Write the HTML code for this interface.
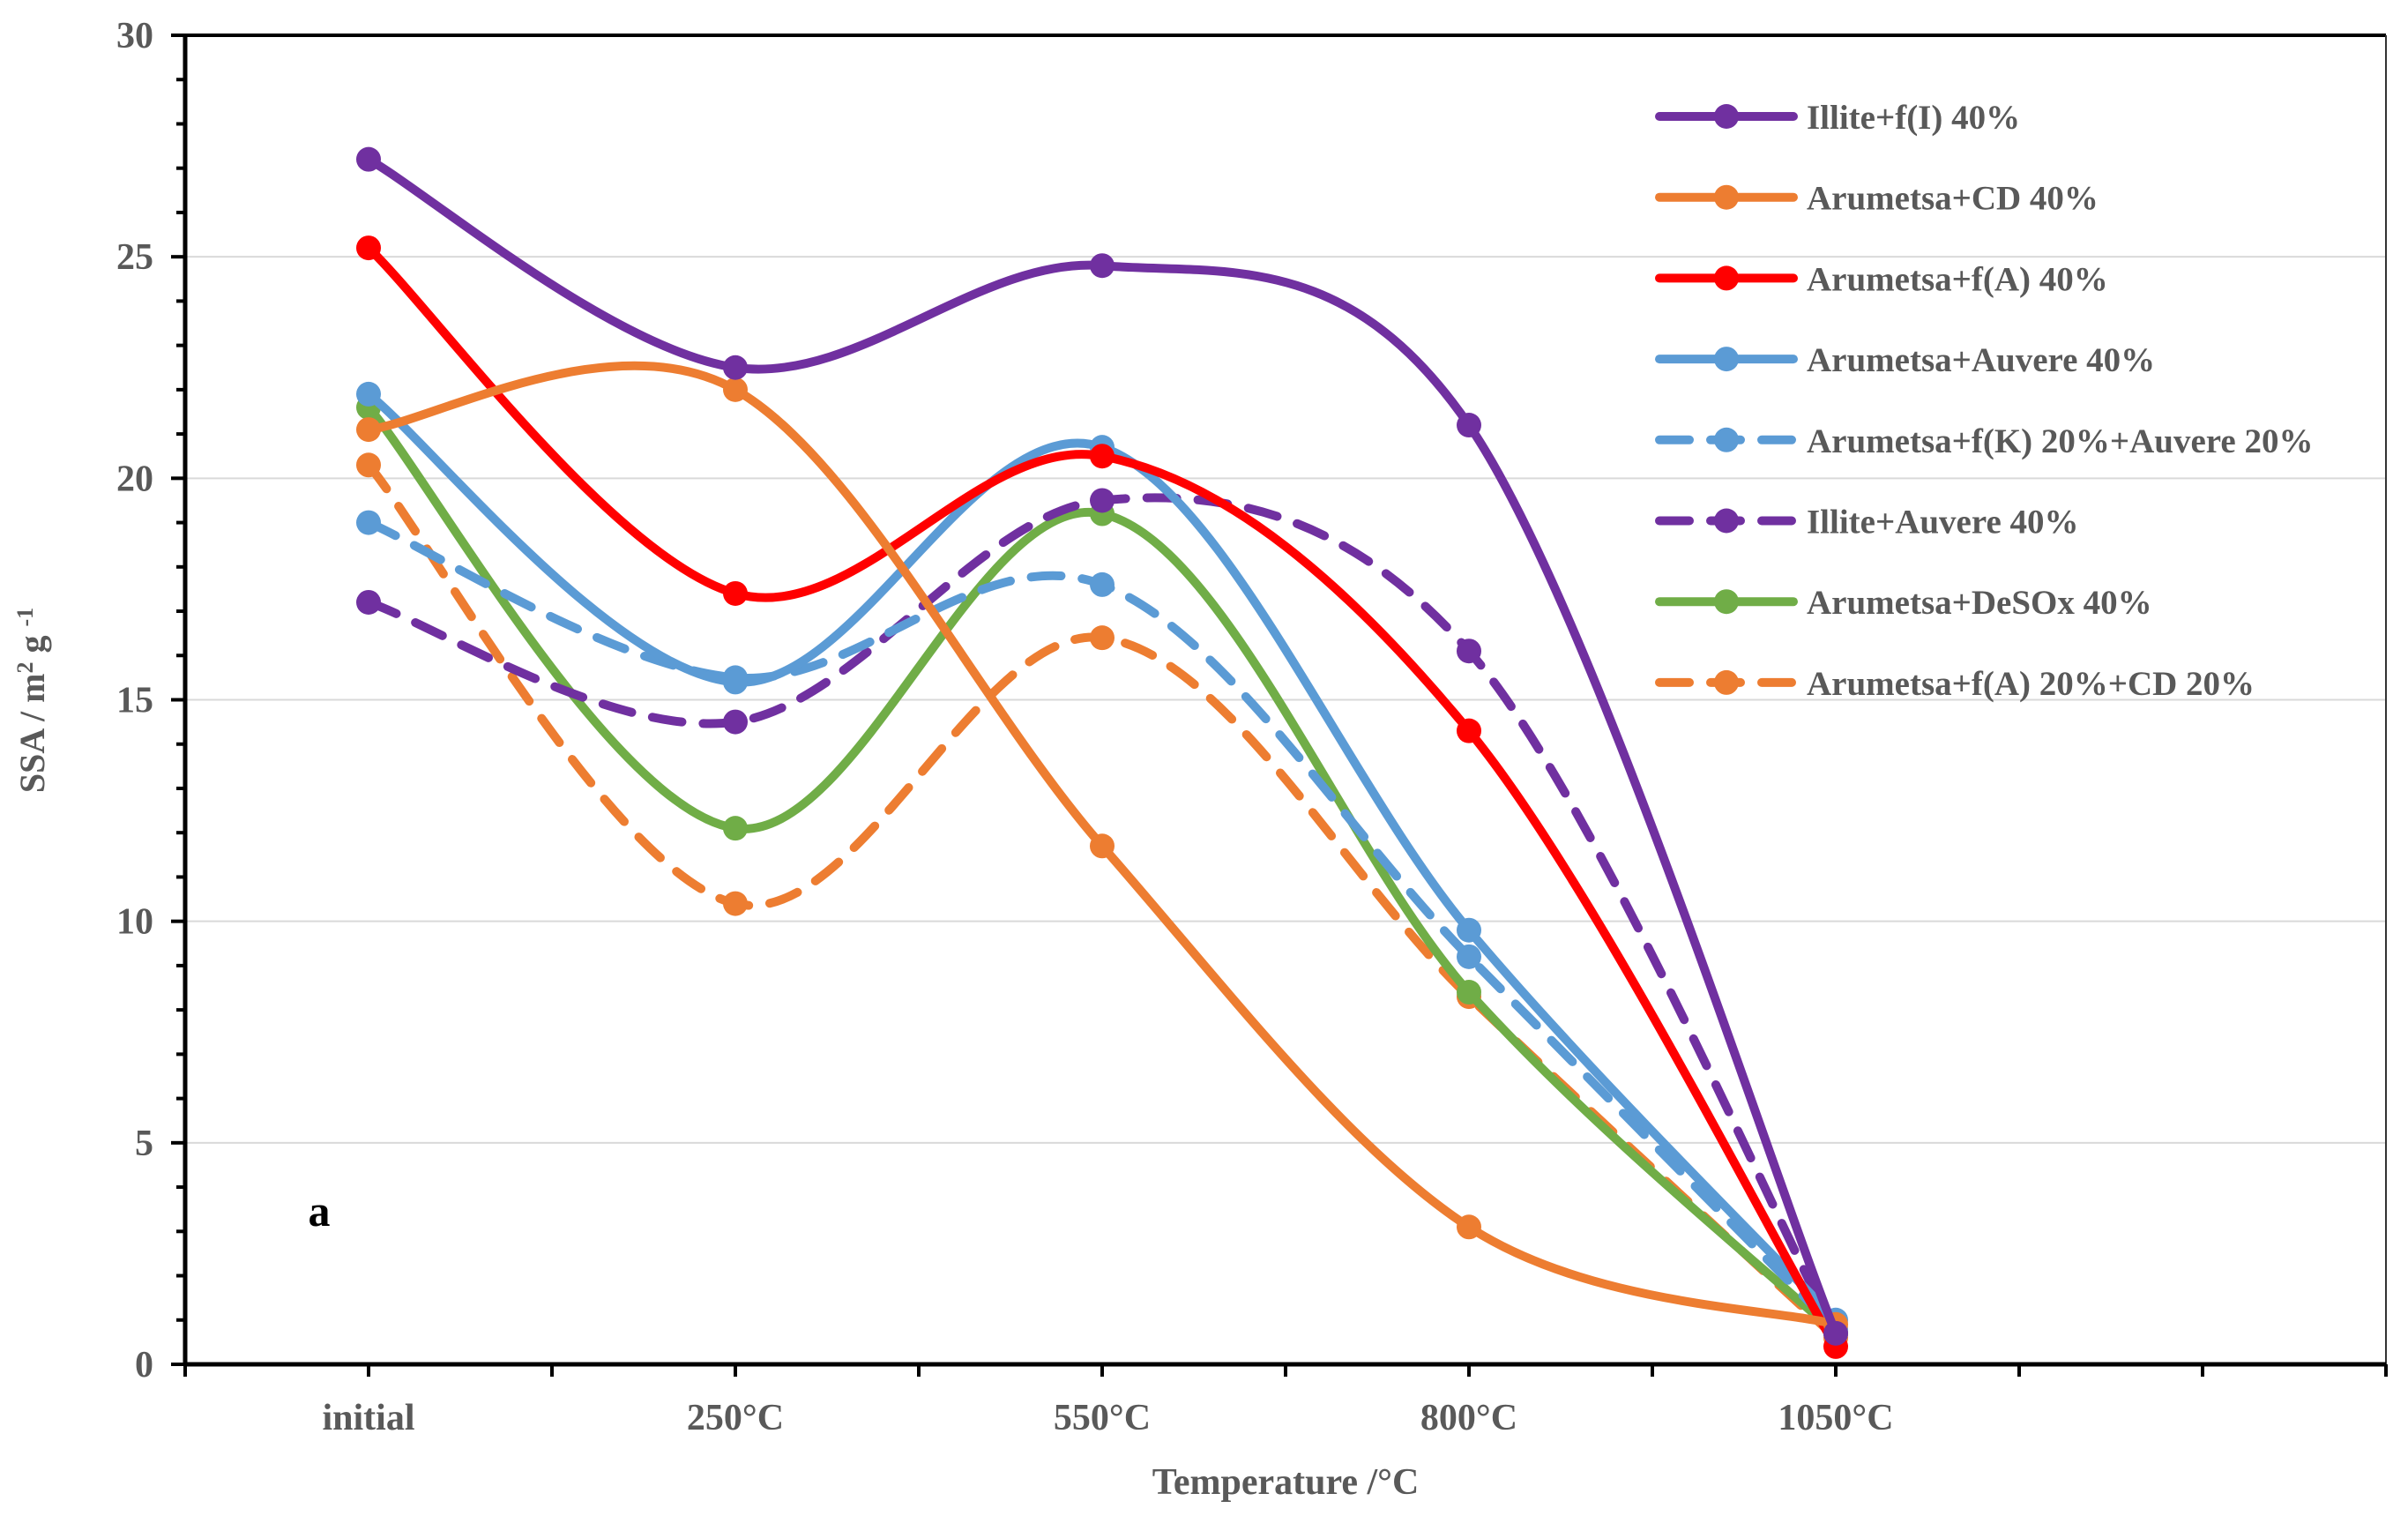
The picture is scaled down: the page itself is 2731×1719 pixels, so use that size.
<!DOCTYPE html>
<html><head><meta charset="utf-8"><style>
body{margin:0;background:#fff}
svg{display:block}
text{font-family:"Liberation Serif",serif;font-weight:bold}
</style></head><body>
<svg id="chart" width="2731" height="1719" viewBox="0 0 2731 1719" xmlns="http://www.w3.org/2000/svg">
<g id="grid"></g>
<g id="axes"></g>
<g id="series"></g>
<g id="legend"></g>
<text x="0" y="0" transform="translate(50,794) rotate(-90)" text-anchor="middle" font-size="40" fill="#595959">SSA / m<tspan font-size="26" dy="-13">2</tspan><tspan dy="13"> g </tspan><tspan font-size="26" dy="-13">-1</tspan></text>
<text x="1458" y="1694" text-anchor="middle" font-size="42" fill="#595959">Temperature /°C</text>
<text x="362" y="1390" text-anchor="middle" font-size="50" fill="#000">a</text>
</svg>
<script>
const categories = ["initial","250°C","550°C","800°C","1050°C"];
const yTicks = [0,5,10,15,20,25,30];
const seriesNames = ["Illite+f(I) 40%","Arumetsa+CD 40%","Arumetsa+f(A) 40%","Arumetsa+Auvere 40%","Arumetsa+f(K) 20%+Auvere 20%","Illite+Auvere 40%","Arumetsa+DeSOx 40%","Arumetsa+f(A) 20%+CD 20%"];
const illiteFI = [27.2,22.5,24.8,21.2,0.7];
const arumetsaCD = [21.1,22.0,11.7,3.1,0.9];
const arumetsaFA = [25.2,17.4,20.5,14.3,0.4];
const arumetsaAuvere = [21.9,15.4,20.7,9.8,1.0];
const arumetsaFKAuvere = [19.0,15.5,17.6,9.2,0.8];
const illiteAuvere = [17.2,14.5,19.5,16.1,0.7];
const arumetsaDeSOx = [21.6,12.1,19.2,8.4,0.7];
const arumetsaFACD = [20.3,10.4,16.4,8.3,0.6];

const NS="http://www.w3.org/2000/svg";
const X0=210, X1=2706, Y0=1547, YT=40, YMAX=30;
const band=(X1-X0)/6;
const xPos=i=>X0+band*(i+0.5);
const yPos=v=>Y0-(v/YMAX)*(Y0-YT);
function mk(tag,attrs,parent){const e=document.createElementNS(NS,tag);for(const k in attrs)e.setAttribute(k,attrs[k]);parent.appendChild(e);return e;}

const grid=document.getElementById('grid'), axes=document.getElementById('axes');
yTicks.forEach(t=>{
  if(t>0&&t<30){const g=mk('line',{x1:X0,x2:X1,y1:yPos(t),y2:yPos(t),stroke:'#d9d9d9','stroke-width':2},grid);
  
  }
  const tl=mk('text',{x:X0-36,y:yPos(t)+14,'text-anchor':'end','font-size':42,fill:'#595959'},axes);
  tl.textContent=t;
  
  
});
for(let v=0;v<=YMAX;v++){mk('line',{x1:X0-(v%5===0?16:10),x2:X0,y1:yPos(v),y2:yPos(v),stroke:'#000','stroke-width':4},axes);}
mk('line',{x1:X0,x2:X0,y1:YT,y2:Y0,stroke:'#000','stroke-width':5},axes);
mk('line',{x1:X0,x2:X1,y1:YT,y2:YT,stroke:'#000','stroke-width':4},axes);
mk('line',{x1:X1,x2:X1,y1:YT,y2:Y0,stroke:'#333','stroke-width':2},axes);
mk('line',{x1:X0,x2:X1,y1:Y0,y2:Y0,stroke:'#000','stroke-width':5},axes);
for(let k=0;k<=12;k++){const x=X0+band/2*k;mk('line',{x1:x,x2:x,y1:Y0,y2:Y0+14,stroke:'#000','stroke-width':4},axes);}
categories.forEach((c,i)=>{const t=mk('text',{x:xPos(i),y:1621,'text-anchor':'middle','font-size':42,fill:'#595959'},axes);t.textContent=c;
  
  });

const seriesData=[illiteFI,arumetsaCD,arumetsaFA,arumetsaAuvere,arumetsaFKAuvere,illiteAuvere,arumetsaDeSOx,arumetsaFACD];
const colors=['#7030a0','#ed7d31','#ff0000','#5b9bd5','#5b9bd5','#7030a0','#70ad47','#ed7d31'];
const dashed=[false,false,false,false,true,true,false,true];
const drawOrder=[7,6,5,4,3,2,1,0];
function smooth(vals){
  const p=vals.map((v,i)=>[xPos(i),yPos(v)]);
  let d='M'+p[0][0]+','+p[0][1];
  for(let i=0;i<p.length-1;i++){
    const a=p[i-1]||p[i], b=p[i], c=p[i+1], e=p[i+2]||p[i+1];
    const c1=[b[0]+(c[0]-a[0])/6,b[1]+(c[1]-a[1])/6], c2=[c[0]-(e[0]-b[0])/6,c[1]-(e[1]-b[1])/6];
    d+=' C'+c1+' '+c2+' '+c;
  }
  return d;
}
const sg=document.getElementById('series');
drawOrder.forEach(s=>{
  const g=mk('g',{},sg);
  
  
  const attrs={d:smooth(seriesData[s]),fill:'none',stroke:colors[s],'stroke-width':10,'stroke-linecap':'round'};
  if(dashed[s])attrs['stroke-dasharray']='34 24';
  const pth=mk('path',attrs,g);
  
  
  seriesData[s].forEach((v,i)=>{const c=mk('circle',{cx:xPos(i),cy:yPos(v),r:14,fill:colors[s]},g);
    
    });
});

const lg=document.getElementById('legend');
seriesNames.forEach((n,s)=>{
  const y=132+s*91.7;
  const g=mk('g',{},lg);
  
  
  const la={x1:1882,x2:2034,y1:y,y2:y,stroke:colors[s],'stroke-width':10,'stroke-linecap':'round'};
  if(dashed[s])la['stroke-dasharray']='34 24';
  mk('line',la,g);
  mk('circle',{cx:1958,cy:y,r:14,fill:colors[s]},g);
  const t=mk('text',{x:2049,y:y+14,'font-size':39,fill:'#595959'},g);t.textContent=n;
});
</script>
</body></html>
